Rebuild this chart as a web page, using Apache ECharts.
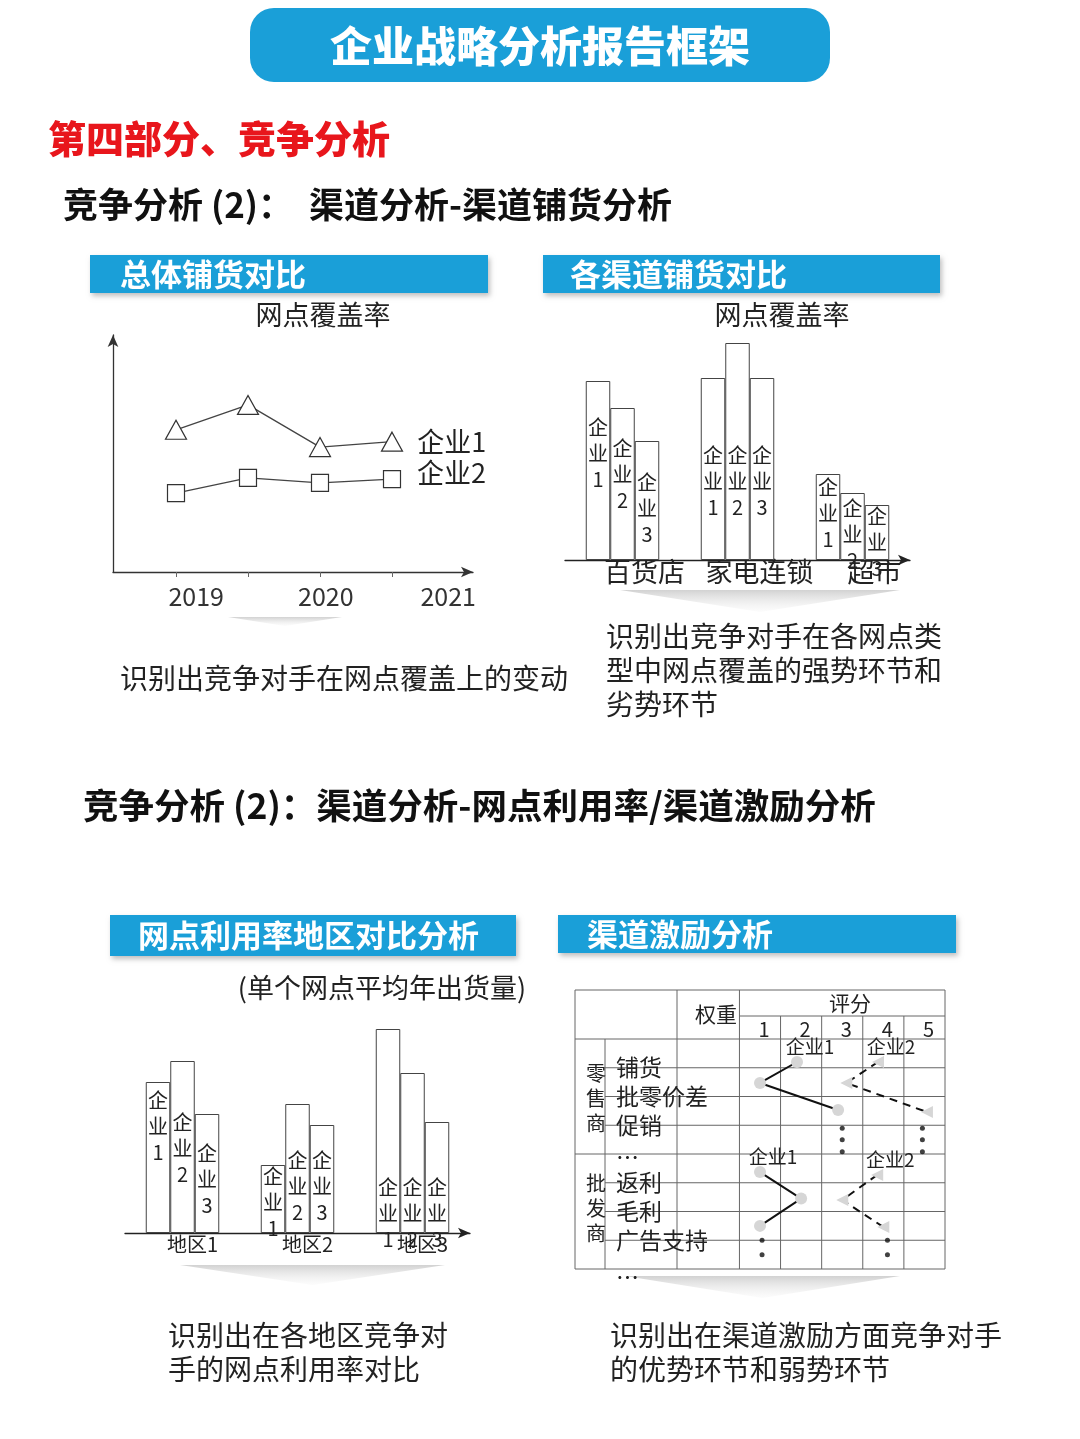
<!DOCTYPE html>
<html>
<head>
<meta charset="utf-8">
<title>企业战略分析报告框架</title>
<script src="https://cdn.jsdelivr.net/npm/echarts@6/dist/echarts.min.js"></script>
<style>
  html, body { margin: 0; padding: 0; background: #fff; }
  #main { width: 1080px; height: 1439px; }
</style>
</head>
<body>
<div id="main"></div>
<script>
// ---- 数据 ----
var years = ['2019', '2020', '2021'];
var coverage1 = [60, 70.5, 52.7, 55];      // 企业1 网点覆盖率
var coverage2 = [33.3, 39.7, 37.6, 39.2];  // 企业2

var channels = ['百货店', '家电连锁', '超市'];
var channelE1 = [179, 182, 86];
var channelE2 = [152, 217, 67];
var channelE3 = [119, 182, 55];

var regions = ['地区1', '地区2', '地区3'];
var regionE1 = [151, 68, 204];
var regionE2 = [172, 129, 160];
var regionE3 = [119, 108, 111];

var retailItems = ['铺货', '批零价差', '促销', '…'];
var wholesaleItems = ['返利', '毛利', '广告支持', '…'];
var scoreLabels = ['1', '2', '3', '4', '5'];

// 评分折线 [评分, 行位置]
var retailLine1 = [[1.9, 0.8], [1.0, 1.53], [2.9, 2.47]];
var retailLine2 = [[3.87, 0.8], [3.1, 1.53], [5.06, 2.54]];
var wholesaleLine1 = [[1.0, 4.63], [2.0, 5.55], [1.0, 6.5]];
var wholesaleLine2 = [[3.85, 4.73], [3.0, 5.6], [4.0, 6.54]];
var ellipsisDots = [
  [3.0, 3.1], [3.0, 3.5], [3.0, 3.92],
  [4.95, 3.1], [4.95, 3.5], [4.95, 3.92],
  [1.05, 7.0], [1.05, 7.5], [1.05, 8.02],
  [4.1, 7.0], [4.1, 7.5], [4.1, 8.02]
];

// ---- 布局 ----
var FONT = '"Noto Sans CJK SC", "Noto Sans", sans-serif';
var BLUE = '#1a9fd8';
var yearPos = [0.28, 2.08, 3.78];
var chLabelTop = [[33, 64, 0], [27, 99, 2], [28, 64, -2]];
var rgLabelTop = [[5, -2, 145], [48, 43, 101], [26, 22, 52]];

var chart = echarts.init(document.getElementById('main'));

function txt(text, x, y, size, o) {
  o = o || {};
  return {
    type: 'text', x: x, y: y, z: o.z || 10,
    style: {
      text: text, fill: o.color || '#222', fontSize: size,
      fontWeight: o.weight || 'normal', fontFamily: FONT,
      align: o.align || 'left', verticalAlign: 'middle',
      lineHeight: o.lineHeight
    }
  };
}

function header(x, y, w, h, label, tx) {
  return [
    { type: 'rect', shape: { x: x, y: y, width: w, height: h }, z: 5,
      style: { fill: BLUE, shadowBlur: 5, shadowOffsetX: 2, shadowOffsetY: 3, shadowColor: 'rgba(0,0,0,0.25)' } },
    txt(label, tx, y + h / 2, 31, { color: '#fff', weight: 'bold', z: 6 })
  ];
}

function chevron(x1, x2, y1, y2) {
  return { type: 'polygon', z: 1,
    shape: { points: [[x1, y1], [x2, y1], [(x1 + x2) / 2, y2]] },
    style: { fill: { type: 'linear', x: 0, y: 0, x2: 0, y2: 1,
      colorStops: [{ offset: 0, color: 'rgba(205,205,205,0.9)' }, { offset: 1, color: 'rgba(245,245,245,0.3)' }] } } };
}

function barSeries(name, vals, tops, idx) {
  return {
    type: 'bar', name: name, xAxisIndex: idx, yAxisIndex: idx,
    barWidth: 24.5, barGap: '0%', silent: true,
    itemStyle: { color: '#fff', borderColor: '#444', borderWidth: 1 },
    label: { show: true, align: 'center', verticalAlign: 'top', fontSize: 20, lineHeight: 26,
      color: '#222', fontFamily: FONT,
      formatter: function (p) { return p.seriesName.split('').join('\n'); } },
    data: vals.map(function (v, i) { return { value: v, label: { position: ['50%', tops[i]] } }; })
  };
}

// 表格网格
var T = { left: 575, right: 945, top: 990, head: 1039, rowH: 28.75, smin: -3.5, smax: 5.5 };
function colX(s) { return T.left + (s - T.smin) * (T.right - T.left) / (T.smax - T.smin); }
function rowY(r) { return T.head + r * T.rowH; }

var g = [];
// 标题
g.push({ type: 'rect', shape: { x: 250, y: 8, width: 580, height: 74, r: 24 }, style: { fill: BLUE } });
g.push(txt('企业战略分析报告框架', 540, 46, 42, { color: '#fff', weight: 900, align: 'center' }));
g.push(txt('第四部分、竞争分析', 48, 139, 38, { color: '#e8161c', weight: 900 }));
g.push(txt('竞争分析 (2)：  渠道分析-渠道铺货分析', 63, 205, 35, { color: '#111', weight: 'bold' }));
g.push(txt('竞争分析 (2)：渠道分析-网点利用率/渠道激励分析', 83, 806, 35.5, { color: '#111', weight: 'bold' }));

g = g.concat(header(90, 255, 398, 38, '总体铺货对比', 120));
g = g.concat(header(543, 255, 397, 38, '各渠道铺货对比', 570));
g = g.concat(header(110, 915, 406, 41, '网点利用率地区对比分析', 138));
g = g.concat(header(558, 915, 398, 38, '渠道激励分析', 587));

g.push(txt('网点覆盖率', 323, 315, 27, { align: 'center' }));
g.push(txt('网点覆盖率', 782, 315, 27, { align: 'center' }));
g.push(txt('(单个网点平均年出货量)', 382, 988, 27, { align: 'center' }));

g.push(chevron(228, 342, 617, 626));
g.push(chevron(620, 900, 590, 612));
g.push(chevron(180, 445, 1265, 1285));
g.push(chevron(625, 900, 1276, 1298));

g.push(txt('识别出竞争对手在网点覆盖上的变动', 120, 678, 28));
g.push(txt('识别出竞争对手在各网点类\n型中网点覆盖的强势环节和\n劣势环节', 606, 670, 28, { lineHeight: 34 }));
g.push(txt('识别出在各地区竞争对\n手的网点利用率对比', 168, 1352, 28, { lineHeight: 34 }));
g.push(txt('识别出在渠道激励方面竞争对手\n的优势环节和弱势环节', 610, 1352, 28, { lineHeight: 34 }));

// 表格线
var lineStyle = { stroke: '#666', lineWidth: 1 };
function hl(y, x1, x2) { return { type: 'line', z: 2, shape: { x1: x1, y1: y, x2: x2, y2: y }, style: lineStyle }; }
function vl(x, y1, y2) { return { type: 'line', z: 2, shape: { x1: x, y1: y1, x2: x, y2: y2 }, style: lineStyle }; }
var bottom = rowY(8);
g.push(hl(T.top, T.left, T.right));
g.push(hl(1016, colX(0.5), T.right));
for (var r = 0; r <= 8; r++) {
  g.push(hl(rowY(r), (r % 4 === 0) ? T.left : 605, T.right));
}
g.push(vl(T.left, T.top, bottom));
g.push(vl(605, T.head, bottom));
g.push(vl(677, T.top, bottom));
g.push(vl(colX(0.5), T.top, bottom));
for (var s = 1; s <= 4; s++) g.push(vl(colX(s + 0.5), 1016, bottom));
g.push(vl(T.right, T.top, bottom));

g.push(txt('权重', 716, 1014, 21, { align: 'center' }));
g.push(txt('评分', 850, 1003, 21, { align: 'center' }));
scoreLabels.forEach(function (l, i) { g.push(txt(l, colX(i + 1) + 4, 1029, 20, { align: 'center' })); });
g.push(txt('零\n售\n商', 596, 1098, 20, { align: 'center', lineHeight: 25 }));
g.push(txt('批\n发\n商', 596, 1208, 20, { align: 'center', lineHeight: 25 }));
retailItems.forEach(function (l, i) { g.push(txt(l, 616, rowY(i + 1) + (l === '…' ? 3 : 0), 23)); });
wholesaleItems.forEach(function (l, i) { g.push(txt(l, 616, rowY(i + 5) + (l === '…' ? 8 : 0), 23)); });

function scoreLine(name, data, dashed) {
  return {
    type: 'line', name: name, xAxisIndex: 3, yAxisIndex: 3, data: data, silent: true,
    lineStyle: { color: '#111', width: 2, type: dashed ? [8, 6] : 'solid' },
    symbol: dashed ? 'triangle' : 'circle', symbolSize: 12,
    symbolRotate: dashed ? 90 : 0,
    itemStyle: { color: '#d6d6d6' },
    label: { show: true, position: 'top', offset: [13, 5], fontSize: 19, color: '#222', fontFamily: FONT,
      formatter: function (p) { return p.dataIndex === 0 ? p.seriesName : ''; } },
    z: 5
  };
}

var option = {
  animation: false,
  backgroundColor: '#fff',
  textStyle: { fontFamily: FONT },
  graphic: { elements: g },
  grid: [
    { left: 113, top: 335, width: 360, height: 237 },
    { left: 565, top: 340, width: 345, height: 220 },
    { left: 125, top: 1013, width: 345, height: 220 },
    { left: T.left, top: T.top, width: T.right - T.left, height: bottom - T.top }
  ],
  xAxis: [
    { gridIndex: 0, type: 'value', min: -0.875, max: 4.125,
      axisLine: { show: true, onZero: false, symbol: ['none', 'arrow'], symbolSize: [8, 12], lineStyle: { color: '#333', width: 1.3 } },
      axisTick: { show: true, customValues: [0, 1, 2, 3], length: 5, lineStyle: { color: '#666' } },
      axisLabel: { show: true, customValues: yearPos, margin: 12, fontSize: 25, color: '#333', fontFamily: FONT,
        formatter: function (v) { return years[yearPos.indexOf(v)] || ''; } },
      splitLine: { show: false } },
    { gridIndex: 1, type: 'category', data: channels,
      axisLine: { show: true, symbol: ['none', 'arrow'], symbolSize: [8, 12], lineStyle: { color: '#222', width: 1.3 } },
      axisTick: { show: false },
      axisLabel: { interval: 0, margin: -2, fontSize: 27, color: '#222', fontFamily: FONT, padding: [0, 0, 0, 44] } },
    { gridIndex: 2, type: 'category', data: regions,
      axisLine: { show: true, symbol: ['none', 'arrow'], symbolSize: [8, 12], lineStyle: { color: '#222', width: 1.3 } },
      axisTick: { show: false },
      axisLabel: { interval: 0, margin: 1, fontSize: 20, color: '#222', fontFamily: FONT, padding: [0, 0, 0, 20] } },
    { gridIndex: 3, type: 'value', min: T.smin, max: T.smax, show: false }
  ],
  yAxis: [
    { gridIndex: 0, type: 'value', min: 0, max: 100,
      axisLine: { show: true, onZero: false, symbol: ['none', 'arrow'], symbolSize: [8, 12], lineStyle: { color: '#333', width: 1.3 } },
      axisTick: { show: false }, axisLabel: { show: false }, splitLine: { show: false } },
    { gridIndex: 1, type: 'value', min: 0, max: 220, show: false },
    { gridIndex: 2, type: 'value', min: 0, max: 220, show: false },
    { gridIndex: 3, type: 'value', inverse: true, min: (T.top - T.head) / T.rowH, max: 8, show: false }
  ],
  series: [
    { type: 'line', name: '企业1', xAxisIndex: 0, yAxisIndex: 0, silent: true,
      data: coverage1.map(function (v, i) { return [i, v]; }),
      symbol: 'triangle', symbolSize: [21, 19],
      lineStyle: { color: '#444', width: 1.3 },
      itemStyle: { color: '#fff', borderColor: '#333', borderWidth: 1.2 },
      label: { show: true, position: 'right', distance: 14, fontSize: 27, color: '#222', fontFamily: FONT,
        formatter: function (p) { return p.dataIndex === coverage1.length - 1 ? p.seriesName : ''; } } },
    { type: 'line', name: '企业2', xAxisIndex: 0, yAxisIndex: 0, silent: true,
      data: coverage2.map(function (v, i) { return [i, v]; }),
      symbol: 'rect', symbolSize: 17,
      lineStyle: { color: '#444', width: 1.3 },
      itemStyle: { color: '#fff', borderColor: '#333', borderWidth: 1.2 },
      label: { show: true, position: 'right', distance: 16, offset: [0, -6], fontSize: 27, color: '#222', fontFamily: FONT,
        formatter: function (p) { return p.dataIndex === coverage2.length - 1 ? p.seriesName : ''; } } },

    barSeries('企业1', channelE1, chLabelTop[0], 1),
    barSeries('企业2', channelE2, chLabelTop[1], 1),
    barSeries('企业3', channelE3, chLabelTop[2], 1),

    barSeries('企业1', regionE1, rgLabelTop[0], 2),
    barSeries('企业2', regionE2, rgLabelTop[1], 2),
    barSeries('企业3', regionE3, rgLabelTop[2], 2),

    scoreLine('企业1', retailLine1, false),
    scoreLine('企业2', retailLine2, true),
    scoreLine('企业1', wholesaleLine1, false),
    scoreLine('企业2', wholesaleLine2, true),
    { type: 'scatter', xAxisIndex: 3, yAxisIndex: 3, data: ellipsisDots, silent: true,
      symbolSize: 5, itemStyle: { color: '#111' } }
  ]
};

chart.setOption(option);
</script>
</body>
</html>
